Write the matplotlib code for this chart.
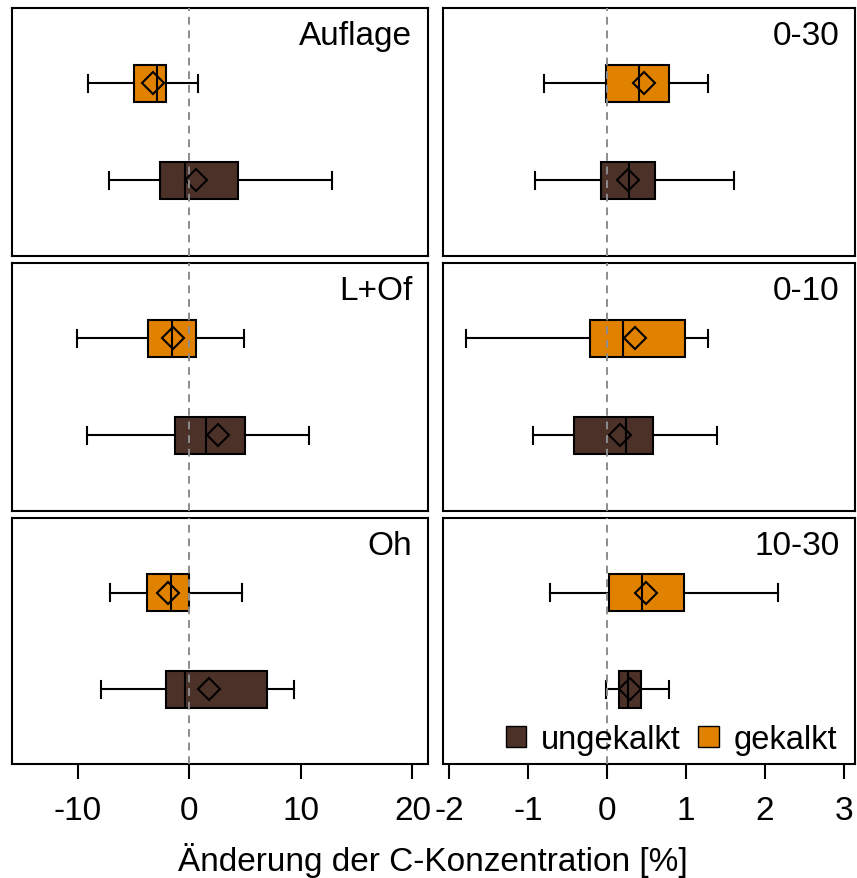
import matplotlib
matplotlib.use("Agg")
import matplotlib.pyplot as plt
from matplotlib.patches import Patch

plt.rcParams['font.family'] = ['Liberation Sans', 'DejaVu Sans']

# ---- data ----
panels_left = ["Auflage", "L+Of", "Oh"]
panels_right = ["0-30", "0-10", "10-30"]
groups = ["ungekalkt", "gekalkt"]

# each stat: [whislo, q1, med, q3, whishi, mean]
ungekalkt_stats = {
    "Auflage": [-7.23, -2.63, -0.39, 4.34, 12.8, 0.6],
    "L+Of":    [-9.15, -1.28, 1.47, 4.97, 10.74, 2.55],
    "Oh":      [-7.92, -2.09, -0.36, 7.0, 9.36, 1.74],
    "0-30":    [-0.91, -0.07, 0.28, 0.61, 1.61, 0.27],
    "0-10":    [-0.93, -0.42, 0.24, 0.58, 1.39, 0.16],
    "10-30":   [-0.01, 0.15, 0.27, 0.43, 0.78, 0.29],
}
gekalkt_stats = {
    "Auflage": [-9.1, -4.96, -2.9, -2.09, 0.81, -3.28],
    "L+Of":    [-10.04, -3.7, -1.52, 0.63, 4.9, -1.5],
    "Oh":      [-7.14, -3.82, -1.67, 0.0, 4.73, -1.88],
    "0-30":    [-0.79, -0.01, 0.40, 0.79, 1.28, 0.47],
    "0-10":    [-1.78, -0.21, 0.21, 0.99, 1.28, 0.36],
    "10-30":   [-0.72, 0.025, 0.45, 0.97, 2.16, 0.50],
}
left_ticks = [-10, 0, 10, 20]
right_ticks = [-2, -1, 0, 1, 2, 3]

colors = {"ungekalkt": "#4B3128", "gekalkt": "#E08100"}

FS = 24
fig = plt.figure(figsize=(8.57, 8.79), dpi=100)

col_x = [(0.01365, 0.4858), (0.5173, 0.4804)]
row_y = [(0.7080, 0.2818), (0.4179, 0.2818), (0.1297, 0.2799)]
xlims = [(-15.93, 21.4), (-2.07, 3.14)]


def make_stats(v):
    return dict(whislo=v[0], q1=v[1], med=v[2], q3=v[3], whishi=v[4], mean=v[5], fliers=[])


for c, (names, ticks) in enumerate([(panels_left, left_ticks), (panels_right, right_ticks)]):
    for r, name in enumerate(names):
        x0, w = col_x[c]
        y0, h = row_y[r]
        ax = fig.add_axes([x0, y0, w, h])
        for pos, g, src in [(1, "ungekalkt", ungekalkt_stats), (2, "gekalkt", gekalkt_stats)]:
            ax.bxp([make_stats(src[name])], positions=[pos], widths=0.38, capwidths=[0.18],
                   orientation='horizontal', showmeans=True, showfliers=False, patch_artist=True,
                   boxprops=dict(facecolor=colors[g], edgecolor='black', linewidth=1.5),
                   whiskerprops=dict(color='black', linewidth=1.5),
                   capprops=dict(color='black', linewidth=1.5),
                   medianprops=dict(color='black', linewidth=1.5),
                   meanprops=dict(marker='D', markerfacecolor='none', markeredgecolor='black',
                                  markersize=11, markeredgewidth=1.5))
        ax.axvline(0, color='#8c8c8c', linestyle=(0, (4, 3)), linewidth=1.4, zorder=5)
        ax.set_xlim(*xlims[c])
        ax.set_ylim(0.225, 2.775)
        ax.set_yticks([])
        for s in ax.spines.values():
            s.set_linewidth(1.5)
        ax.text(0.962, 0.95, name, transform=ax.transAxes, ha='right', va='top', fontsize=FS)
        if r == 2:
            ax.set_xticks(ticks)
            ax.set_xticklabels([str(t) for t in ticks])
            ax.tick_params(axis='x', length=11, width=1.5, pad=11, labelsize=FS)
        else:
            ax.set_xticks([])
        if c == 1 and r == 2:
            handles = [Patch(facecolor=colors[g], edgecolor='black', linewidth=1, label=g) for g in groups]
            ax.legend(handles=handles, loc='lower right', bbox_to_anchor=(1 - 11 / 412, 2 / 246),
                      ncol=2, frameon=False, fontsize=23.5,
                      handlelength=0.62, handleheight=0.62, handletextpad=0.45, columnspacing=0.55,
                      borderaxespad=0.1, borderpad=0.12)

fig.text(433 / 857, 1 - 871 / 879, "Änderung der C-Konzentration [%]", ha='center', va='baseline',
         fontsize=FS)

fig.savefig("out.png", dpi=100)
